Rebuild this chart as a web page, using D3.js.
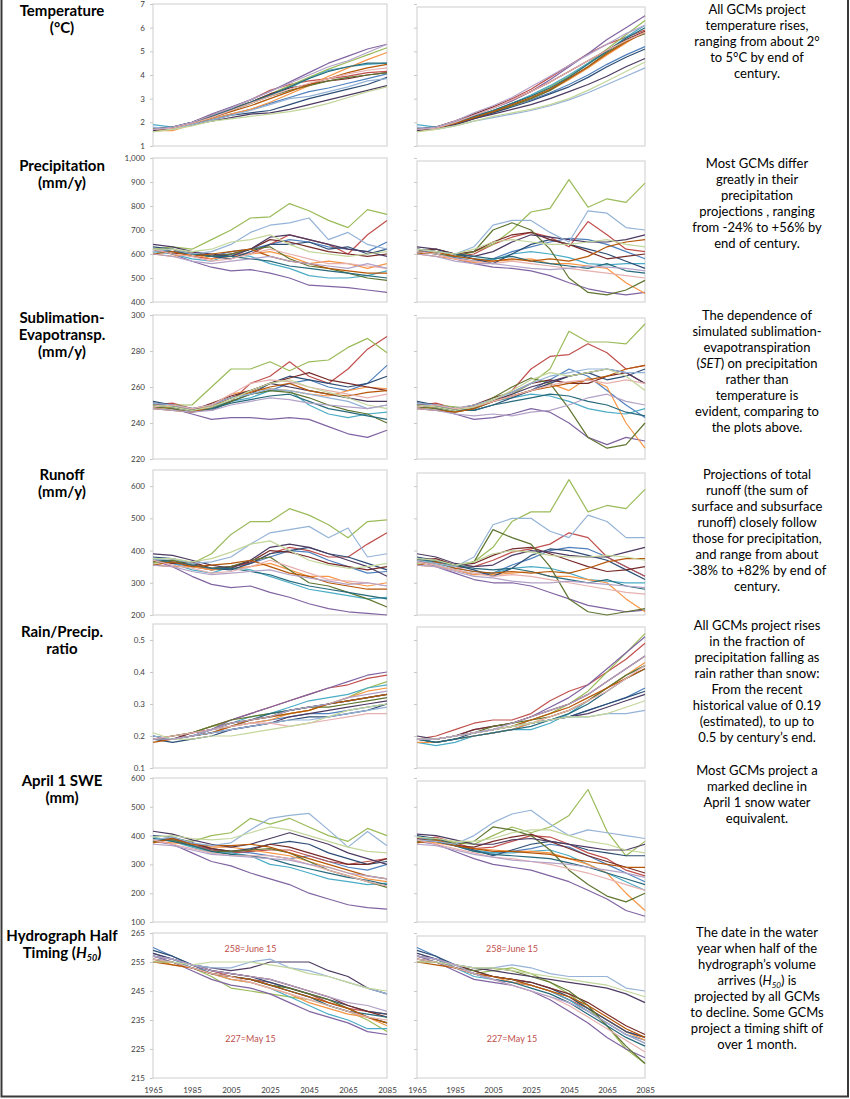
<!DOCTYPE html>
<html>
<head>
<meta charset="utf-8">
<script src="https://cdn.jsdelivr.net/npm/d3@7"></script>
<style>
  body { margin: 0; background: #fff; }
  svg { display: block; }
  .row-label { font-family: Lato, "Open Sans", sans-serif; font-weight: bold; font-size: 15px; fill: #000; }
  .note { font-family: Lato, "Open Sans", sans-serif; font-size: 13px; fill: #000; }
  .tick-label { font-family: Lato, "Open Sans", sans-serif; font-size: 8px; fill: #404040; }
  .mark { font-family: Lato, "Open Sans", sans-serif; font-size: 9px; fill: #C0504D; }
</style>
</head>
<body>
<div id="chart"></div>
<script>
// years sampled (every 10 years)
const years = [1965, 1975, 1985, 1995, 2005, 2015, 2025, 2035, 2045, 2055, 2065, 2075, 2085];
const xTicks = [1965, 1985, 2005, 2025, 2045, 2065, 2085];

// one colour per GCM, same order in every panel
const gcmColors = ['#4F81BD', '#C0504D', '#9BBB59', '#8064A2', '#4BACC6', '#F79646',
  '#2C4D75', '#772C2A', '#5F7530', '#4D3B62', '#276A7C', '#B65708',
  '#95B3D7', '#E6B0AF', '#C3D69B', '#B3A2C7'];

const tempLeft = [
  [1.7,1.8,1.95,2.15,2.35,2.55,2.8,3.05,3.3,3.45,3.65,3.85,4.05],
  [1.7,1.75,2.0,2.3,2.6,2.95,3.35,3.6,3.75,3.85,3.95,4.1,4.15],
  [1.65,1.75,2.0,2.3,2.6,2.85,3.2,3.55,3.9,4.25,4.55,4.85,5.15],
  [1.7,1.8,2.0,2.35,2.65,2.95,3.3,3.7,4.1,4.5,4.8,5.1,5.3],
  [1.9,1.8,1.95,2.25,2.5,2.8,3.15,3.45,3.85,4.2,4.35,4.45,4.5],
  [1.65,1.65,1.9,2.15,2.35,2.55,2.85,3.2,3.55,3.95,4.3,4.65,4.95],
  [1.7,1.75,1.9,2.1,2.3,2.4,2.5,2.75,3.0,3.2,3.4,3.6,3.9],
  [1.75,1.8,2.0,2.3,2.55,2.85,3.2,3.45,3.6,3.75,3.85,4.0,4.1],
  [1.7,1.75,1.95,2.2,2.5,2.8,3.1,3.35,3.55,3.75,3.9,4.0,4.1],
  [1.65,1.75,1.9,2.05,2.2,2.35,2.4,2.55,2.75,2.95,3.15,3.35,3.55],
  [1.7,1.8,2.0,2.25,2.55,2.85,3.15,3.5,3.85,4.15,4.35,4.5,4.5],
  [1.7,1.75,1.95,2.2,2.45,2.7,3.0,3.3,3.6,3.85,4.1,4.3,4.45],
  [1.8,1.7,1.9,2.1,2.3,2.5,2.75,3.0,3.1,3.3,3.5,3.75,3.85],
  [1.7,1.75,1.95,2.2,2.5,2.8,3.1,3.4,3.65,3.85,4.05,4.2,4.3],
  [1.6,1.7,1.85,2.05,2.15,2.25,2.35,2.45,2.6,2.8,3.05,3.3,3.5],
  [1.7,1.8,2.0,2.3,2.6,2.95,3.3,3.65,4.0,4.35,4.6,4.95,5.3]
];
const tempRight = [
  [1.7,1.75,1.95,2.2,2.45,2.7,2.95,3.25,3.6,4.0,4.45,4.85,5.2],
  [1.7,1.8,2.05,2.35,2.65,3.0,3.4,3.9,4.4,4.9,5.3,5.6,5.9],
  [1.65,1.75,1.95,2.25,2.5,2.8,3.1,3.5,3.95,4.5,5.1,5.7,6.3],
  [1.7,1.8,2.0,2.3,2.6,2.9,3.3,3.8,4.35,4.9,5.5,6.0,6.5],
  [1.9,1.8,2.0,2.25,2.5,2.8,3.15,3.55,4.0,4.5,5.0,5.6,6.1],
  [1.65,1.7,1.9,2.15,2.4,2.7,3.0,3.35,3.8,4.3,4.85,5.35,5.85],
  [1.7,1.75,1.9,2.15,2.4,2.65,2.9,3.2,3.5,3.9,4.35,4.75,5.1],
  [1.75,1.8,2.05,2.35,2.65,2.95,3.3,3.7,4.15,4.6,5.05,5.5,5.85],
  [1.7,1.75,1.95,2.2,2.45,2.7,3.0,3.35,3.85,4.35,4.95,5.45,5.75],
  [1.65,1.75,1.9,2.15,2.35,2.55,2.75,3.0,3.3,3.6,3.95,4.35,4.7],
  [1.7,1.8,2.0,2.25,2.5,2.8,3.1,3.45,3.9,4.45,5.0,5.55,6.0],
  [1.7,1.75,1.95,2.2,2.45,2.75,3.05,3.4,3.85,4.35,4.9,5.4,5.8],
  [1.8,1.7,1.85,2.05,2.2,2.35,2.5,2.7,2.95,3.25,3.6,3.95,4.3],
  [1.7,1.75,2.0,2.3,2.6,2.95,3.3,3.7,4.15,4.6,5.05,5.45,5.8],
  [1.6,1.7,1.85,2.05,2.25,2.4,2.55,2.75,3.0,3.35,3.75,4.15,4.55],
  [1.7,1.8,2.05,2.4,2.7,3.05,3.5,3.95,4.4,4.85,5.3,5.75,6.1]
];

const precipLeft = [
  [620,610,600,590,610,620,640,660,650,630,620,610,650],
  [610,620,590,580,600,600,640,680,660,640,600,680,740],
  [620,630,620,660,700,750,755,810,780,740,710,785,765],
  [620,600,570,545,530,535,520,500,470,465,460,450,440],
  [610,600,580,570,600,590,560,540,510,500,500,510,530],
  [600,590,600,580,590,600,610,590,560,570,560,540,560],
  [630,620,600,590,580,610,640,640,650,620,630,600,620],
  [620,600,610,590,600,620,660,650,630,610,600,590,600],
  [610,620,600,590,600,620,630,580,550,540,520,500,490],
  [640,630,610,600,590,620,670,680,660,640,620,610,590],
  [620,610,600,590,590,580,570,550,540,530,520,510,500],
  [600,610,590,600,610,620,590,570,560,540,530,520,520],
  [610,620,600,610,640,690,720,730,750,660,690,640,620],
  [620,600,590,570,580,600,620,600,580,560,560,550,540],
  [620,620,610,620,650,660,680,640,610,600,590,600,610],
  [600,590,570,560,570,580,590,570,560,550,540,560,540]
];
const precipRight = [
  [610,600,585,570,580,610,630,650,665,660,640,610,580],
  [620,610,590,600,640,670,690,670,630,735,680,620,610],
  [610,620,600,610,640,700,775,790,910,795,830,815,895],
  [620,600,580,560,545,540,530,510,480,455,440,430,440],
  [610,600,590,580,575,600,610,600,585,560,555,560,560],
  [600,590,580,565,570,575,580,560,560,550,540,480,435],
  [620,610,600,580,560,600,640,660,640,620,600,570,540],
  [610,620,600,610,650,680,690,660,640,610,580,590,600],
  [610,600,590,610,700,730,700,620,500,440,430,450,490],
  [630,620,600,590,610,650,680,670,660,650,650,660,680],
  [620,610,600,590,580,590,570,560,550,540,560,530,520],
  [600,610,590,580,570,580,570,580,570,590,630,650,660],
  [620,610,600,630,720,740,740,690,650,780,770,710,700],
  [610,600,580,570,560,570,560,550,540,530,520,510,500],
  [620,610,600,620,650,660,650,640,640,650,660,640,630],
  [600,590,570,560,560,550,540,535,540,550,545,540,530]
];

const setLeft = [
  [250,249,247,250,254,256,258,262,264,260,258,262,272],
  [250,251,248,249,252,262,266,274,266,262,270,281,288],
  [249,250,250,260,270,270,274,269,274,275,282,287,279],
  [250,248,245,242,243,243,242,243,242,238,234,232,236],
  [251,250,248,249,252,254,258,258,250,245,243,245,246],
  [248,249,247,250,256,258,259,258,256,255,258,260,259],
  [252,250,248,247,252,256,262,266,264,262,260,262,266],
  [250,249,247,251,255,258,262,265,268,264,262,260,258],
  [249,248,246,248,252,256,258,257,254,250,247,245,240],
  [251,250,248,250,254,258,262,260,258,256,254,252,252],
  [250,249,247,248,251,253,255,256,252,248,246,244,242],
  [248,247,246,249,254,257,260,262,258,256,255,257,258],
  [251,250,248,250,254,256,259,258,256,254,252,248,250],
  [249,250,248,250,256,262,264,263,260,258,256,254,256],
  [250,249,247,249,253,258,262,264,260,257,254,250,248],
  [248,247,246,247,250,252,254,253,251,250,249,248,250]
];
const setRight = [
  [250,249,247,248,252,255,258,264,270,266,258,250,243],
  [250,251,248,250,252,258,270,277,278,284,279,270,272],
  [249,250,249,248,252,256,262,270,291,285,285,284,295],
  [250,248,245,242,243,245,248,246,240,232,228,232,230],
  [251,250,248,248,252,254,256,255,252,248,246,245,248],
  [248,249,247,249,252,255,258,262,258,265,260,240,226],
  [252,250,248,247,250,254,258,262,266,268,264,266,270],
  [250,249,247,250,254,257,262,264,262,262,266,268,262],
  [249,248,246,248,254,260,265,262,248,232,226,228,240],
  [251,250,248,249,252,256,260,263,266,268,270,268,262],
  [250,249,247,247,250,252,254,256,255,252,250,246,244],
  [248,247,246,248,252,255,258,260,262,264,266,270,272],
  [251,250,248,250,253,257,262,266,268,270,270,268,268],
  [249,250,248,249,252,255,258,261,263,264,262,264,262],
  [250,249,247,249,253,258,264,268,266,268,270,266,258],
  [248,247,245,244,245,244,246,247,250,254,256,252,250]
];

const runoffLeft = [
  [370,360,350,340,350,360,380,400,395,370,350,330,335],
  [365,370,355,340,350,360,390,410,400,380,380,420,455],
  [360,370,360,390,450,490,490,530,510,480,440,490,495],
  [370,350,320,295,285,290,270,255,235,220,210,205,200],
  [375,360,340,330,350,340,320,300,280,270,260,250,255],
  [355,350,350,340,345,350,360,340,320,320,300,290,300],
  [380,375,360,345,340,360,390,400,410,390,380,360,340],
  [370,360,365,345,350,365,400,395,380,360,350,340,350],
  [365,370,355,345,350,370,380,340,300,290,270,250,225],
  [390,385,370,355,345,370,410,420,410,390,370,350,320],
  [375,365,355,345,345,335,325,305,290,280,270,260,250],
  [355,365,350,355,360,370,350,330,320,300,290,280,280],
  [370,375,360,365,380,420,455,465,475,440,470,380,390],
  [370,355,345,330,335,350,370,350,330,310,305,300,290],
  [375,375,365,375,395,420,430,400,370,355,345,350,360],
  [355,350,335,325,330,335,340,325,315,305,295,300,290]
];
const runoffRight = [
  [365,355,340,325,330,355,375,400,410,405,380,350,320],
  [375,365,345,350,370,395,405,420,455,440,380,350,320],
  [360,370,355,365,410,490,520,520,620,520,540,530,590],
  [370,350,330,310,300,300,290,270,250,230,220,210,215],
  [375,360,345,335,330,345,350,345,330,310,305,300,300],
  [355,350,340,325,325,330,335,320,320,310,300,250,210],
  [380,370,355,340,320,345,385,405,400,385,370,340,310],
  [370,375,355,360,385,405,410,390,370,350,335,340,350],
  [370,360,350,365,465,440,420,350,250,210,200,210,220],
  [390,380,360,350,355,385,400,395,385,380,380,395,410],
  [375,365,355,345,340,345,335,320,310,300,310,290,280],
  [355,365,345,335,330,335,330,335,330,345,365,375,375],
  [370,360,350,380,480,500,500,460,440,510,490,440,440],
  [365,355,340,330,320,325,320,310,300,290,280,270,265],
  [375,370,355,365,390,400,395,385,380,380,385,380,370],
  [355,350,335,320,315,305,300,300,305,300,295,290,285]
];

const rainLeft = [
  [.19,.19,.20,.21,.23,.24,.25,.26,.27,.27,.28,.29,.30],
  [.19,.20,.21,.23,.25,.27,.29,.31,.33,.35,.36,.38,.39],
  [.19,.20,.21,.23,.24,.25,.26,.27,.28,.30,.32,.35,.37],
  [.19,.19,.21,.22,.25,.27,.29,.31,.33,.35,.37,.39,.40],
  [.20,.19,.20,.22,.24,.26,.27,.29,.31,.32,.33,.35,.36],
  [.19,.19,.20,.21,.23,.24,.25,.27,.28,.30,.32,.34,.35],
  [.19,.18,.19,.20,.22,.23,.24,.25,.26,.26,.27,.28,.30],
  [.19,.19,.21,.22,.24,.25,.26,.28,.29,.30,.31,.32,.33],
  [.19,.20,.21,.23,.25,.26,.27,.28,.29,.29,.30,.31,.32],
  [.20,.19,.20,.21,.22,.23,.24,.26,.27,.28,.29,.30,.31],
  [.19,.19,.20,.22,.23,.25,.27,.28,.29,.30,.31,.32,.33],
  [.18,.19,.20,.21,.23,.25,.26,.27,.28,.30,.31,.32,.33],
  [.20,.19,.20,.21,.22,.23,.24,.25,.25,.26,.27,.28,.29],
  [.19,.20,.21,.22,.23,.24,.24,.23,.24,.25,.26,.27,.27],
  [.21,.19,.19,.20,.20,.21,.22,.23,.24,.26,.28,.29,.30],
  [.19,.19,.20,.22,.24,.25,.26,.28,.29,.30,.32,.33,.34]
];
const rainRight = [
  [.19,.18,.19,.20,.21,.22,.24,.25,.26,.28,.30,.32,.35],
  [.19,.20,.22,.24,.25,.25,.27,.31,.34,.36,.40,.44,.49],
  [.19,.19,.20,.21,.22,.23,.25,.27,.30,.34,.40,.46,.52],
  [.19,.19,.20,.22,.23,.24,.26,.29,.32,.36,.41,.46,.51],
  [.18,.17,.18,.20,.21,.22,.22,.24,.27,.31,.35,.39,.42],
  [.18,.18,.19,.20,.21,.22,.24,.26,.28,.31,.35,.39,.43],
  [.19,.18,.19,.21,.22,.23,.24,.25,.26,.28,.30,.32,.34],
  [.19,.19,.20,.22,.23,.24,.26,.28,.30,.33,.37,.41,.45],
  [.19,.19,.20,.21,.23,.24,.25,.26,.28,.31,.35,.39,.42],
  [.20,.19,.20,.21,.22,.23,.24,.25,.26,.27,.29,.31,.33],
  [.19,.18,.19,.20,.21,.22,.23,.25,.27,.30,.34,.38,.41],
  [.19,.19,.20,.21,.22,.23,.25,.27,.29,.32,.35,.38,.41],
  [.19,.19,.20,.21,.22,.23,.24,.25,.26,.26,.27,.27,.28],
  [.19,.19,.20,.21,.22,.23,.24,.26,.28,.31,.34,.38,.42],
  [.19,.19,.20,.21,.22,.23,.24,.25,.26,.26,.27,.29,.31],
  [.19,.19,.20,.21,.22,.24,.26,.28,.30,.33,.37,.41,.45]
];

const sweLeft = [
  [390,385,370,350,345,340,330,320,330,310,290,280,300],
  [380,390,370,350,340,345,350,350,330,310,300,310,320],
  [385,390,380,400,410,460,440,460,430,400,380,425,400],
  [380,370,340,310,295,270,250,230,200,180,160,150,145],
  [395,380,360,340,340,330,300,290,270,250,240,230,235],
  [380,375,370,360,360,350,340,330,310,290,270,250,240],
  [400,395,375,355,345,355,370,380,370,340,320,300,310],
  [385,390,375,355,345,350,370,360,340,320,300,300,320],
  [380,385,365,345,345,350,355,340,310,280,260,240,220],
  [415,405,385,370,360,370,390,410,390,370,340,320,300],
  [390,380,365,345,335,330,320,300,285,270,255,245,230],
  [375,390,370,365,365,370,360,340,320,300,280,260,250],
  [385,395,375,365,375,420,460,470,477,420,360,414,365],
  [385,370,355,340,330,330,330,320,300,280,260,240,225],
  [395,400,390,385,390,410,430,420,400,380,360,345,340],
  [370,365,350,335,330,325,320,315,300,290,270,260,250]
];
const sweRight = [
  [385,380,365,345,340,345,355,370,360,330,300,270,240],
  [385,395,375,355,360,380,400,395,370,340,320,280,260],
  [380,390,375,370,400,430,410,430,470,560,415,330,380],
  [380,370,345,320,300,290,280,260,240,210,180,140,120],
  [395,385,365,350,340,340,345,350,330,300,270,240,210],
  [380,375,365,355,350,345,345,340,320,300,270,200,140],
  [400,390,370,350,330,350,370,380,370,350,340,330,330],
  [390,380,365,360,380,395,405,380,355,330,310,290,270],
  [380,385,370,380,430,420,400,350,280,230,190,170,200],
  [405,400,385,370,370,385,390,380,370,360,350,350,370],
  [385,380,365,345,335,330,325,320,305,290,270,250,230],
  [375,385,365,355,345,345,340,335,320,310,300,290,290],
  [385,380,370,400,445,475,488,440,400,420,410,400,390],
  [385,370,355,340,325,320,310,300,285,270,250,230,210],
  [395,390,380,380,390,410,420,420,400,380,370,350,340],
  [370,365,350,335,325,315,310,305,300,290,280,270,255]
];

const h50Left = [
  [260,257,254,251,250,249,247,245,243,240,238,236,234],
  [257,256,254,252,250,249,248,246,244,241,239,238,237],
  [256,255,253,250,246,245,244,243,242,240,238,235,231],
  [257,255,252,249,247,246,244,241,238,236,234,231,230],
  [258,256,253,251,249,248,246,243,240,237,235,232,232],
  [256,254,253,251,249,248,246,244,241,239,237,236,233],
  [259,257,254,252,251,250,248,246,244,242,240,238,237],
  [257,256,254,252,251,250,249,247,245,243,240,238,236],
  [255,255,253,251,250,249,247,246,244,242,239,236,234],
  [258,256,254,253,252,253,255,255,255,252,250,246,244],
  [256,255,253,251,250,249,247,245,243,240,238,237,236],
  [255,254,253,251,250,249,247,245,243,241,239,236,234],
  [257,256,254,253,253,255,256,253,252,250,248,246,244],
  [256,255,253,251,250,248,246,244,242,240,238,236,235],
  [255,255,254,255,255,255,254,253,251,250,248,246,245],
  [257,256,254,252,251,250,249,247,245,243,241,240,238]
];
const h50Right = [
  [260,257,253,251,250,249,247,245,242,238,234,230,228],
  [257,256,253,251,249,248,247,245,242,239,235,231,229],
  [256,255,253,251,252,253,251,248,244,239,233,225,220],
  [257,255,252,249,248,247,245,242,238,234,229,225,222],
  [258,256,253,250,249,248,247,245,242,238,234,230,227],
  [256,255,253,251,250,248,247,245,243,239,235,231,228],
  [259,257,254,252,250,249,248,246,243,239,235,231,229],
  [257,256,254,252,250,249,248,246,244,241,237,233,230],
  [255,255,253,252,253,252,250,248,245,240,233,226,220],
  [258,256,254,253,252,251,250,249,248,247,246,244,241],
  [256,255,253,251,249,248,246,244,241,237,233,229,226],
  [255,254,253,251,250,249,247,245,243,240,236,232,229],
  [257,256,254,253,253,254,253,251,250,250,250,246,245],
  [256,255,253,251,249,247,245,243,240,236,232,228,224],
  [255,255,254,253,253,252,251,250,249,248,247,245,243],
  [257,256,254,251,249,247,245,243,241,238,234,230,227]
];

// axis ticks per row
const tempTicks = [1, 2, 3, 4, 5, 6, 7];
const precipTicks = [400, 500, 600, 700, 800, 900, 1000];
const setTicks = [220, 240, 260, 280, 300];
const runoffTicks = [200, 300, 400, 500, 600];
const rainTicks = [0.1, 0.2, 0.3, 0.4, 0.5];
const sweTicks = [100, 200, 300, 400, 500, 600];
const h50Ticks = [215, 225, 235, 245, 255, 265];

const rowLabels = [
  ['Temperature', '(°C)'],
  ['Precipitation', '(mm/y)'],
  ['Sublimation-', 'Evapotransp.', '(mm/y)'],
  ['Runoff', '(mm/y)'],
  ['Rain/Precip.', 'ratio'],
  ['April 1 SWE', '(mm)'],
  ['Hydrograph Half', 'Timing (H50)']
];
const rowNotes = [
  ['All GCMs project', 'temperature rises,', 'ranging from about 2°', 'to 5°C by end of', 'century.'],
  ['Most GCMs differ', 'greatly in their', 'precipitation', 'projections ,  ranging', 'from -24% to +56% by', 'end of century.'],
  ['The dependence of', 'simulated sublimation-', 'evapotranspiration', '(SET) on precipitation', 'rather than', 'temperature is', 'evident, comparing to', 'the plots above.'],
  ['Projections of total', 'runoff (the sum of', 'surface and subsurface', 'runoff) closely follow', 'those for precipitation,', 'and range from about', '-38% to +82% by end of', 'century.'],
  ['All GCMs project rises', 'in the fraction of', 'precipitation falling as', 'rain rather than snow:', 'From the recent', 'historical value of 0.19', '(estimated), to up to', '0.5 by century\u2019s end.'],
  ['Most GCMs project a', 'marked decline in', 'April 1 snow water', 'equivalent.'],
  ['The date in the water', 'year when half of the', 'hydrograph\u2019s volume', 'arrives (H50) is', 'projected by all GCMs', 'to decline. Some GCMs', 'project a timing shift of', 'over 1 month.']
];

const rows = [
  { left: tempLeft, right: tempRight, domain: [1, 7], ticks: tempTicks, fmt: d3.format('d'), y0: 146, y1: 4, labelY: 11, noteY: 9 },
  { left: precipLeft, right: precipRight, domain: [400, 1000], ticks: precipTicks, fmt: d3.format(','), y0: 302, y1: 158, labelY: 166, noteY: 163 },
  { left: setLeft, right: setRight, domain: [220, 300], ticks: setTicks, fmt: d3.format('d'), y0: 459, y1: 315, labelY: 318, noteY: 315 },
  { left: runoffLeft, right: runoffRight, domain: [200, 650], ticks: runoffTicks, fmt: d3.format('d'), y0: 615, y1: 470, labelY: 475, noteY: 474 },
  { left: rainLeft, right: rainRight, domain: [0.1, 0.55], ticks: rainTicks, fmt: d3.format('.1f'), y0: 768, y1: 624, labelY: 632, noteY: 625 },
  { left: sweLeft, right: sweRight, domain: [100, 600], ticks: sweTicks, fmt: d3.format('d'), y0: 922, y1: 778, labelY: 781, noteY: 770 },
  { left: h50Left, right: h50Right, domain: [215, 265], ticks: h50Ticks, fmt: d3.format('d'), y0: 1078, y1: 933, labelY: 936, noteY: 932 }
];

const width = 850, height = 1099;
const svg = d3.select('#chart').append('svg')
  .attr('width', width)
  .attr('height', height);

const xLeft = d3.scaleLinear().domain([1965, 2085]).range([153, 387]);
const xRight = d3.scaleLinear().domain([1965, 2085]).range([417, 645]);

const lineGen = (x, y) => d3.line()
  .x((d, i) => x(years[i]))
  .y(d => y(d));

const drawPanel = (row, series, x, showLabels, topShift) => {
  const y = d3.scaleLinear().domain(row.domain).range([row.y0, row.y1]);
  const g = svg.append('g');

  // light frame around the plot area
  g.append('rect')
    .attr('x', x.range()[0])
    .attr('y', row.y1 + topShift)
    .attr('width', x.range()[1] - x.range()[0])
    .attr('height', row.y0 - row.y1 - topShift)
    .attr('fill', 'none')
    .attr('stroke', '#d9d9d9')
    .attr('stroke-width', 1.3);

  const yAxis = d3.axisLeft(y).tickValues(row.ticks).tickSize(3).tickFormat(showLabels ? row.fmt : '');
  const yAxisG = g.append('g')
    .attr('transform', `translate(${x.range()[0]},0)`)
    .call(yAxis);
  yAxisG.select('.domain').remove();
  yAxisG.selectAll('line').attr('stroke', '#c8c8c8');
  yAxisG.selectAll('text')
    .attr('class', 'tick-label')
    .attr('x', -8)
    .attr('font-family', null)
    .attr('font-size', null);

  g.append('g')
    .selectAll('path')
    .data(series)
    .enter().append('path')
      .attr('d', d => lineGen(x, y)(d))
      .attr('fill', 'none')
      .attr('stroke', (d, i) => gcmColors[i])
      .attr('stroke-width', 1.2)
      .attr('stroke-linejoin', 'round');

  return y;
};

rows.forEach((row, r) => {
  drawPanel(row, row.left, xLeft, true, 0);
  drawPanel(row, row.right, xRight, false, 3);

  // row title on the left
  const lab = svg.append('text')
    .attr('class', 'row-label')
    .attr('text-anchor', 'middle');
  rowLabels[r].forEach((t, i) => {
    const ts = lab.append('tspan')
      .attr('x', 62)
      .attr('y', row.labelY + 5 + i * 17);
    if (t.includes('H50')) {
      ts.text('Timing (');
      ts.append('tspan').attr('font-style', 'italic').text('H');
      ts.append('tspan').attr('font-style', 'italic').attr('font-size', '9px').attr('dy', 3).text('50');
      ts.append('tspan').attr('dy', -3).text(')');
    } else {
      ts.text(t);
    }
  });

  // explanatory note on the right
  const note = svg.append('text')
    .attr('class', 'note')
    .attr('text-anchor', 'middle');
  rowNotes[r].forEach((t, i) => {
    const ts = note.append('tspan')
      .attr('x', 757)
      .attr('y', row.noteY + 5 + i * 16);
    if (t.startsWith('(SET)')) {
      ts.text('(');
      ts.append('tspan').attr('font-style', 'italic').text('SET');
      ts.append('tspan').text(t.slice(4));
    } else if (t.includes('(H50)')) {
      ts.text('arrives (');
      ts.append('tspan').attr('font-style', 'italic').text('H');
      ts.append('tspan').attr('font-style', 'italic').attr('font-size', '8px').attr('dy', 3).text('50');
      ts.append('tspan').attr('dy', -3).text(') is');
    } else {
      ts.text(t);
    }
  });
});

// bottom row: date annotations and x axis labels
const h50Row = rows[6];
const yH = d3.scaleLinear().domain(h50Row.domain).range([h50Row.y0, h50Row.y1]);
[xLeft, xRight].forEach(x => {
  svg.append('text').attr('class', 'mark').attr('text-anchor', 'middle')
    .attr('x', x(2015)).attr('y', yH(258.5)).text('258=June 15');
  svg.append('text').attr('class', 'mark').attr('text-anchor', 'middle')
    .attr('x', x(2015)).attr('y', yH(227.5)).text('227=May 15');

  const xAxis = d3.axisBottom(x).tickValues(xTicks).tickSize(0).tickFormat(d3.format('d'));
  const xAxisG = svg.append('g')
    .attr('transform', `translate(0,${h50Row.y0 + 6})`)
    .call(xAxis);
  xAxisG.select('.domain').remove();
  xAxisG.selectAll('text')
    .attr('class', 'tick-label')
    .attr('font-family', null)
    .attr('font-size', null);
});

// outer frame (left, right, bottom)
svg.append('path')
  .attr('d', 'M1.5,0 V1096.5 H848 V0')
  .attr('fill', 'none')
  .attr('stroke', '#3a3a3a')
  .attr('stroke-width', 2);
</script>
</body>
</html>
